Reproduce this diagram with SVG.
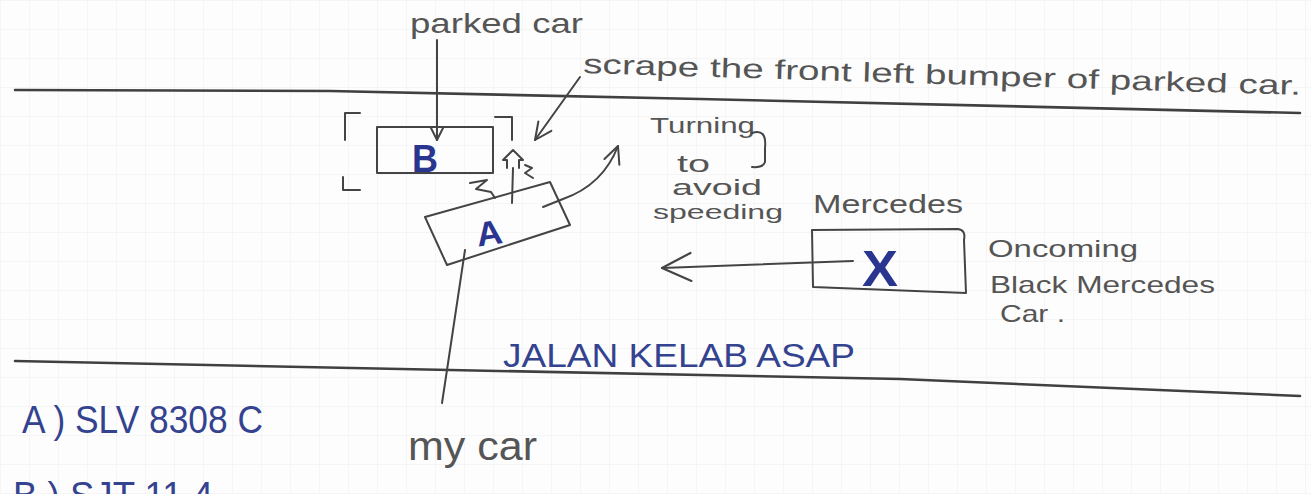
<svg xmlns="http://www.w3.org/2000/svg" width="1311" height="494" viewBox="0 0 1311 494">
<style>
.pen{fill:none;stroke:#444;stroke-width:2;stroke-linecap:round;stroke-linejoin:round}
.road{fill:none;stroke:#404040;stroke-width:2.6;stroke-linecap:round}
.txt{font-family:"Liberation Sans",Arial,sans-serif;fill:#555}
.blue{font-family:"Liberation Sans",Arial,sans-serif;fill:#34438f}
.big{font-weight:bold;fill:#2a3590}
</style>
<defs>
<pattern id="grid" width="29" height="29" patternUnits="userSpaceOnUse">
<path d="M29 0 L0 0 0 29" fill="none" stroke="#eeeeee" stroke-width="1"/>
</pattern>
<marker id="ah" viewBox="0 0 14 14" refX="13" refY="7" markerWidth="14" markerHeight="14" markerUnits="userSpaceOnUse" orient="auto">
<path d="M1 1 L13 7 L1 13" fill="none" stroke="#444" stroke-width="2" stroke-linecap="round" stroke-linejoin="round"/>
</marker>
<marker id="ahL" viewBox="0 0 32 32" refX="31" refY="16" markerWidth="32" markerHeight="32" markerUnits="userSpaceOnUse" orient="auto">
<path d="M2 2 L31 16 L2 30" fill="none" stroke="#444" stroke-width="2.2" stroke-linecap="round" stroke-linejoin="round"/>
</marker>
<marker id="ahM" viewBox="0 0 20 20" refX="19" refY="10" markerWidth="20" markerHeight="20" markerUnits="userSpaceOnUse" orient="auto">
<path d="M2 2 L19 10 L2 18" fill="none" stroke="#444" stroke-width="2" stroke-linecap="round" stroke-linejoin="round"/>
</marker>
</defs>
<rect width="1311" height="494" fill="#fdfdfd"/>
<rect width="1311" height="494" fill="url(#grid)"/>

<g id="road">
<polyline class="road" points="15,90 330,91 700,99 1300,113"/>
<polyline class="road" points="15,361 450,370 900,379 1300,396"/>
</g>

<g id="car-B">
<path class="pen" d="M377 127 L493 127 L493 173 L377 173 Z"/>
<path class="pen" d="M360 113 L345 113 L345 140"/>
<path class="pen" d="M343 177 L343 190 L360 190"/>
<path class="pen" d="M495 117 L512 117 L512 140"/>
<text class="blue big" x="412" y="172" font-size="38" textLength="26" lengthAdjust="spacingAndGlyphs">B</text>
</g>

<g id="car-A">
<path class="pen" d="M425 217 L550 182 L570 225 L447 265 Z"/>
<text class="blue big" x="476" y="245" font-size="34" textLength="26" lengthAdjust="spacingAndGlyphs" transform="rotate(-8 488 232)">A</text>
</g>

<g id="car-X">
<path class="pen" d="M812 230 L958 229 Q966 230 964 240 L966 293 L813 287 Z"/>
<text class="blue big" x="862" y="286" font-size="50" textLength="36" lengthAdjust="spacingAndGlyphs">X</text>
</g>

<g id="collision">
<path class="pen" d="M470 183 L487 180 L476 189 L491 192 L495 198"/>
<path class="pen" d="M507 168 L507 160 L503 160 L513 150 L523 160 L519 160 L519 168"/>
<path class="pen" d="M525 165 L532 168 L525 173 L533 178"/>
<path class="pen" d="M513 168 L512 203"/>
</g>

<g id="labels">
<text class="txt" x="410" y="33" font-size="28" textLength="173" lengthAdjust="spacingAndGlyphs">parked car</text>
<text class="txt" x="583" y="73" font-size="27" textLength="718" lengthAdjust="spacingAndGlyphs" transform="rotate(1.75 583 73)">scrape the front left bumper of parked car.</text>
<text class="txt" x="650" y="133" font-size="22" textLength="105" lengthAdjust="spacingAndGlyphs">Turning</text>
<path class="pen" d="M752 133 Q767 128 765 148 L765 162 Q763 168 752 167"/>
<text class="txt" x="677" y="172" font-size="24" textLength="33" lengthAdjust="spacingAndGlyphs">to</text>
<text class="txt" x="672" y="195" font-size="22" textLength="90" lengthAdjust="spacingAndGlyphs">avoid</text>
<text class="txt" x="653" y="219" font-size="21" textLength="130" lengthAdjust="spacingAndGlyphs">speeding</text>
<text class="txt" x="813" y="213" font-size="26" textLength="150" lengthAdjust="spacingAndGlyphs">Mercedes</text>
<text class="txt" x="988" y="257" font-size="24" textLength="150" lengthAdjust="spacingAndGlyphs">Oncoming</text>
<text class="txt" x="990" y="293" font-size="24" textLength="225" lengthAdjust="spacingAndGlyphs">Black Mercedes</text>
<text class="txt" x="1000" y="322" font-size="24" textLength="65" lengthAdjust="spacingAndGlyphs">Car .</text>
<text class="blue" x="503" y="367" font-size="34" textLength="352" lengthAdjust="spacingAndGlyphs">JALAN KELAB ASAP</text>
<text class="txt" x="408" y="460" font-size="40" textLength="129" lengthAdjust="spacingAndGlyphs">my car</text>
<text class="blue" x="22" y="433" font-size="38" textLength="241" lengthAdjust="spacingAndGlyphs">A ) SLV 8308 C</text>
<text class="blue" x="13" y="509" font-size="38" textLength="200" lengthAdjust="spacingAndGlyphs">B ) SJT 11 4</text>
</g>

<g id="connectors">
<path class="pen" d="M437 40 L437 140" marker-end="url(#ah)"/>
<path class="pen" d="M580 77 L535 140" marker-end="url(#ahM)"/>
<path class="pen" d="M543 207 L563 199 Q603 185 618 146" marker-end="url(#ahM)"/>
<path class="pen" d="M853 261 L662 268" marker-end="url(#ahL)"/>
<path class="pen" d="M465 250 L447 370 L442 403"/>
</g>
</svg>
